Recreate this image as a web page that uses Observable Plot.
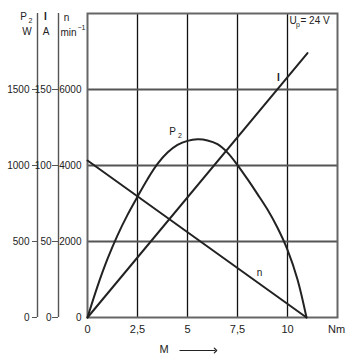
<!DOCTYPE html>
<html><head><meta charset="utf-8">
<script src="https://cdn.jsdelivr.net/npm/d3@7"></script>
<script src="https://cdn.jsdelivr.net/npm/@observablehq/plot@0.6"></script>
<style>body{margin:0;background:#fff} svg{display:block}</style>
</head><body><div id="chart"></div>
<script>
// Torque M (Nm) vs output power P2 (W)
const torqueP2 = [0, 0.5, 1, 1.5, 2, 2.5, 3, 3.5, 4, 4.5, 5, 5.5, 6, 6.5, 7, 7.5, 8, 8.5, 9, 9.5, 10, 10.5, 10.95];
const powerP2  = [0, 205, 385, 540, 675, 795, 910, 1010, 1085, 1135, 1162, 1172, 1165, 1140, 1085, 1003, 910, 812, 710, 590, 445, 250, 0];
// speed n (min^-1)
const torqueN = [0, 10.95];
const speedN  = [4130, 0];
// current I (A)
const torqueI  = [0, 11.0];
const currentI = [0, 174];

const xTicks = [0, 2.5, 5, 7.5, 10];
const yTicksP2 = [0, 500, 1000, 1500];
const vGrid = [2.5, 5, 7.5, 10];
const hGrid = [500, 1000, 1500];

// common y scale is P2 (W): I*10, n/4
const p2Data = torqueP2.map((m, i) => ({m, v: powerP2[i]}));
const nData  = torqueN.map((m, i) => ({m, v: speedN[i] / 4}));
const iData  = torqueI.map((m, i) => ({m, v: currentI[i] * 10}));

const font = "'Liberation Sans', Arial, sans-serif";
const ink = "#222";
const ML = 87, MT = 13;
const lab = (t, x, y, o = {}) => Plot.text([t], {frameAnchor: "top-left", dx: x - ML, dy: y - MT, text: d => d, fill: ink, fontSize: 10, textAnchor: "middle", lineAnchor: "middle", ...o});

const chart = Plot.plot({
  width: 352, height: 363,
  marginLeft: ML, marginRight: 15, marginTop: MT, marginBottom: 46,
  style: {fontFamily: font, fontSize: "10px", color: ink, background: "#fff"},
  x: {domain: [0, 12.5]},
  y: {domain: [0, 2000]},
  marks: [
    Plot.ruleX(vGrid, {stroke: "#111", strokeWidth: 1.3}),
    Plot.ruleY(hGrid, {stroke: "#555", strokeWidth: 2}),
    Plot.frame({stroke: "#666", strokeWidth: 2}),
    Plot.line(p2Data, {x: "m", y: "v", curve: "catmull-rom", stroke: ink, strokeWidth: 2}),
    Plot.line(nData, {x: "m", y: "v", stroke: ink, strokeWidth: 2}),
    Plot.line(iData, {x: "m", y: "v", stroke: ink, strokeWidth: 2}),
    Plot.axisX({ticks: xTicks, tickSize: 0, tickPadding: 8, fontSize: 11, label: null, tickFormat: d => String(d).replace(".", ",")}),
    // P2 axis
    Plot.ruleX([0], {y1: 0, y2: 2000, dx: -50, stroke: "#555", strokeWidth: 1.4}),
    Plot.axisY({ticks: yTicksP2, dx: -50, tickSize: 5, tickPadding: 3, label: null, tickFormat: d => String(d), stroke: "#555"}),
    // I axis
    Plot.ruleX([0], {y1: 0, y2: 2000, dx: -29, stroke: "#555", strokeWidth: 1.4}),
    Plot.axisY({ticks: yTicksP2, dx: -29, tickSize: 6, tickPadding: 1, label: null, tickFormat: d => String(d / 10), stroke: "#555"}),
    // n axis
    Plot.axisY({ticks: yTicksP2, tickSize: 0, tickPadding: 6, label: null, tickFormat: d => String(d * 4)}),
    // axis headers
    lab("P", 23, 16),
    lab("2", 30, 20, {fontSize: 7}),
    lab("W", 26.5, 31),
    lab("I", 45, 16, {fontWeight: "bold"}),
    lab("A", 45.5, 31),
    lab("n", 66, 17),
    lab("min", 60, 32, {textAnchor: "start"}),
    lab("\u22121", 77, 27, {textAnchor: "start", fontSize: 7}),
    // supply voltage
    lab("U", 289, 20, {textAnchor: "start"}),
    lab("p", 295.5, 24, {textAnchor: "start", fontSize: 7}),
    lab("= 24 V", 300, 20, {textAnchor: "start"}),
    // x axis unit & label
    lab("Nm", 336, 329, {fontSize: 11}),
    lab("M", 163.5, 349, {fontSize: 11}),
    Plot.link([0], {x1: 4.6, x2: 6.4, y1: -217, y2: -217, stroke: ink, strokeWidth: 1.2, markerEnd: "arrow"}),
    // curve labels
    Plot.text(["P"], {x: 4.25, y: 1224, text: d => d, fill: ink, fontSize: 10}),
    Plot.text(["2"], {x: 4.25, y: 1224, dx: 7.5, dy: 4, text: d => d, fill: ink, fontSize: 7}),
    Plot.text(["I"], {x: 9.55, y: 1579, text: d => d, fill: ink, fontSize: 10, fontWeight: "bold"}),
    Plot.text(["n"], {x: 8.6, y: 296, text: d => d, fill: ink, fontSize: 10})
  ]
});
document.getElementById("chart").append(chart);
</script>
</body></html>
